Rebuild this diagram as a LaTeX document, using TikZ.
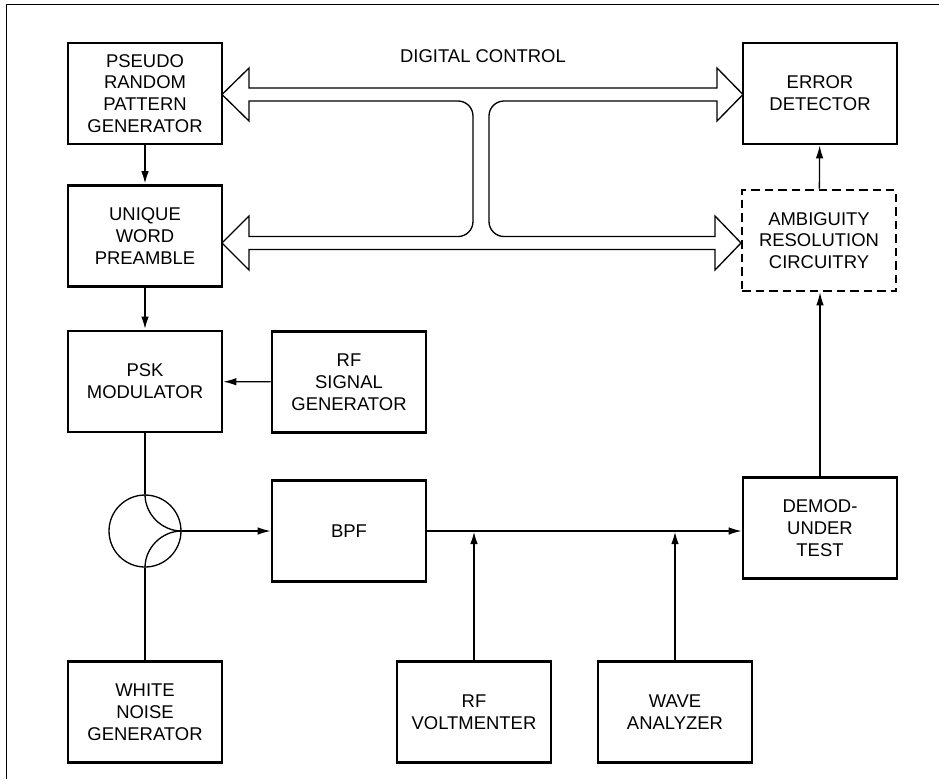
\documentclass[tikz,border=0pt]{standalone}
\usepackage{fontspec}
\setmainfont{Liberation Sans}
\usetikzlibrary{arrows.meta}

\tikzset{
  blk/.style={draw, line width=1.5pt, minimum width=3.08cm, minimum height=2.02cm,
    inner sep=0pt, align=center, font=\fontsize{10.5}{12.4}\selectfont},
  dblk/.style={blk, dash pattern=on 0.17cm off 0.1cm},
  wire/.style={line width=0.75pt},
  fat/.style={line width=1.2pt},
}

\begin{document}
\begin{tikzpicture}[x=0.02cm, y=-0.02cm, >={Latex[length=0.26cm,width=0.15cm]}]
  \useasboundingbox (0,0) rectangle (939,779);
  \draw[wire] (6.5,779) -- (6.5,4.5) -- (939,4.5);

  % left column
  \node[blk] (prpg) at (145,93.5) {PSEUDO\\RANDOM\\PATTERN\\GENERATOR};
  \node[blk] (uwp) at (145,236) {UNIQUE\\WORD\\PREAMBLE};
  \node[blk] (psk) at (145,381.5) {PSK\\MODULATOR};
  \node[blk] (rfgen) at (349,382) {RF\\SIGNAL\\GENERATOR};
  \node[draw, wire, circle, minimum size=1.44cm, inner sep=0pt] (comb) at (145,531) {};
  \node[blk] (wng) at (145,712) {WHITE\\NOISE\\GENERATOR};

  % middle and right
  \node[blk] (bpf) at (349,531) {BPF};
  \node[blk] (rfvm) at (474,712) {RF\\VOLTMENTER};
  \node[blk] (wave) at (675,712) {WAVE\\ANALYZER};
  \node[blk] (demod) at (820,528) {DEMOD-\\UNDER\\TEST};
  \node[dblk] (ambig) at (819,240.5) {AMBIGUITY\\RESOLUTION\\CIRCUITRY};
  \node[blk] (errdet) at (820,93.5) {ERROR\\DETECTOR};
  \node[font=\fontsize{10.5}{12.4}\selectfont] (dctl) at (483,56) {DIGITAL CONTROL};

  % digital control bus
  \draw[wire] (222,94.5) -- (249,68) -- (249,88) -- (717,88) -- (717,68) -- (743,94.5)
    -- (717,121) -- (717,101) -- (600,101) [rounded corners=0.3cm] -- (489,101)
    -- (489,236.5) -- (600,236.5) [sharp corners] -- (715,236.5) -- (715,216)
    -- (741,243) -- (715,270) -- (715,249.5) -- (249,249.5) -- (249,270)
    -- (222,243) -- (249,216) -- (249,236.5) -- (360,236.5) [rounded corners=0.3cm]
    -- (473,236.5) -- (473,101) -- (360,101) [sharp corners] -- (249,101)
    -- (249,121) -- cycle;

  % combiner
  \draw[wire] (comb.north) .. controls +(0,19.9) and +(-19.9,0) .. (comb.east);
  \draw[wire] (comb.south) .. controls +(0,-19.9) and +(-19.9,0) .. (comb.east);

  % signal path
  \draw[->, fat] (prpg) -- (uwp);
  \draw[->, fat] (uwp) -- (psk);
  \draw[->, wire] (rfgen) -- (psk);
  \draw[wire] (psk) -- (comb);
  \draw[wire] (wng) -- (comb);
  \draw[->, wire] (comb.east) -- (bpf);
  \draw[->, wire] (bpf.east) -- (bpf.east -| demod.west);
  \draw[->, fat] (rfvm.north) -- (rfvm.north |- bpf.east);
  \draw[->, fat] (wave.north) -- (wave.north |- bpf.east);
  \draw[->, wire] (demod.north) -- (demod.north |- ambig.south);
  \draw[->, wire] (ambig) -- (errdet);
\end{tikzpicture}
\end{document}
